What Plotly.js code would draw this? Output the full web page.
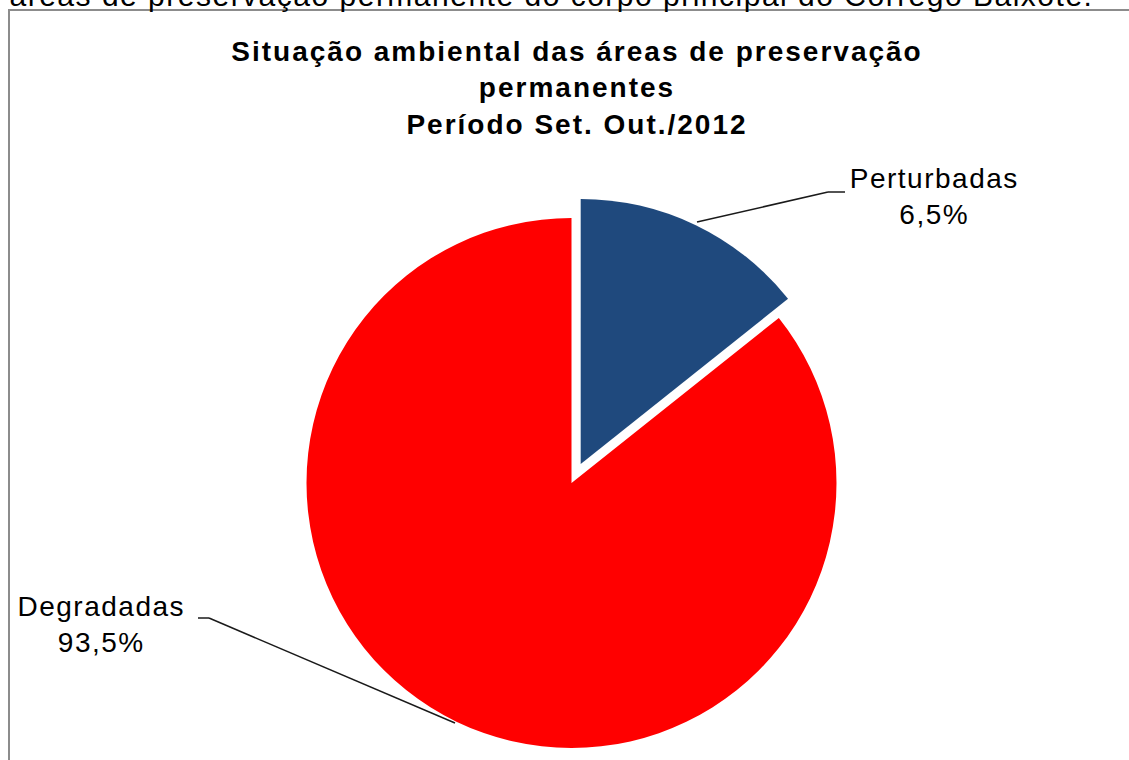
<!DOCTYPE html>
<html>
<head>
<meta charset="utf-8">
<script src="https://cdn.plot.ly/plotly-3.0.1.min.js"></script>
<style>
  html, body { margin: 0; padding: 0; background: #fff; overflow: hidden; }
  #chart { width: 1129px; height: 760px; }
  #chart .gtitle { letter-spacing: 2px; }
  #chart .annotation-text { letter-spacing: 1.5px; }
</style>
</head>
<body>
<div id="chart"></div>
<script>
// ---- data ----
const categories = ['Perturbadas', 'Degradadas'];
const sliceShares = [14.3, 85.7];          // slice sizes as drawn in the picture
const pctLabels = ['6,5%', '93,5%'];        // percentages printed on the labels
const sliceColors = ['#1F497D', '#FF0000'];
const titleLines = ['Situação ambiental das áreas de preservação', 'permanentes', 'Período Set. Out./2012'];
const captionText = 'áreas de preservação permanente do corpo principal do Córrego Baixote.';

// ---- layout helpers ----
const W = 1129, H = 760;
const px = x => x / W;
const py = y => 1 - y / H;
const R = 265, CX = 571.5, CY = 483, PULL = 0.08;

function domainAt(cx, cy, r) {
  return { x: [px(cx - r), px(cx + r)], y: [py(cy + r), py(cy - r)] };
}
const total = sliceShares.reduce((a, b) => a + b, 0);
const halfAngle = Math.PI * sliceShares[0] / total;  // bisector of first slice (clockwise from 12 o'clock)
const pdx = PULL * R * Math.sin(halfAngle);
const pdy = -PULL * R * Math.cos(halfAngle);

const hidden = 'rgba(0,0,0,0)';
const base = {
  type: 'pie', labels: categories, values: sliceShares, sort: false,
  direction: 'clockwise', rotation: 0, textinfo: 'none', hoverinfo: 'label+text',
  text: pctLabels, showlegend: false
};
const traceMain = Object.assign({}, base, {
  marker: { colors: [hidden, sliceColors[1]], line: { width: 0 } },
  domain: domainAt(CX, CY, R)
});
const tracePulled = Object.assign({}, base, {
  marker: { colors: [sliceColors[0], hidden], line: { width: 0 } },
  domain: domainAt(CX + pdx, CY + pdy, R)
});

const fontFamily = 'Liberation Sans, Arial, sans-serif';
const labelFont = { family: fontFamily, size: 28, color: '#000' };
const annotations = [
  { text: categories[0] + '<br>' + pctLabels[0], x: px(934), y: py(161), xref: 'paper', yref: 'paper',
    xanchor: 'center', yanchor: 'top', showarrow: false, font: labelFont, align: 'center' },
  { text: categories[1] + '<br>' + pctLabels[1], x: px(102), y: py(589), xref: 'paper', yref: 'paper',
    xanchor: 'center', yanchor: 'top', showarrow: false, font: labelFont, align: 'center' },
  { text: captionText, x: px(551), y: py(14), xref: 'paper', yref: 'paper',
    xanchor: 'center', yanchor: 'bottom', showarrow: false,
    font: { family: fontFamily, size: 30, color: '#000' } }
];

const lineStyle = { color: '#1a1a1a', width: 1.5 };
const seg = (x0, y0, x1, y1) => ({ type: 'line', xref: 'paper', yref: 'paper',
  x0: px(x0), y0: py(y0), x1: px(x1), y1: py(y1), line: lineStyle });
const shapes = [
  { type: 'rect', xref: 'paper', yref: 'paper', x0: px(9), y0: py(780), x1: px(1140), y1: py(10),
    line: { color: '#8c8c8c', width: 2 }, fillcolor: 'rgba(0,0,0,0)', layer: 'below' },
  seg(697, 222, 828, 192), seg(828, 192, 845, 192),
  seg(198, 618, 209, 618), seg(209, 618, 455, 723)
];

const layout = {
  width: W, height: H,
  margin: { l: 0, r: 0, t: 0, b: 0 },
  paper_bgcolor: '#fff',
  title: {
    text: '<b>' + titleLines.join('<br>') + '</b>',
    x: px(577), xanchor: 'center', xref: 'paper',
    y: py(61), yanchor: 'top', yref: 'container',
    font: { family: fontFamily, size: 28, color: '#000' }
  },
  annotations: annotations,
  shapes: shapes
};

Plotly.newPlot('chart', [traceMain, tracePulled], layout, { displayModeBar: false, staticPlot: true });
</script>
</body>
</html>
